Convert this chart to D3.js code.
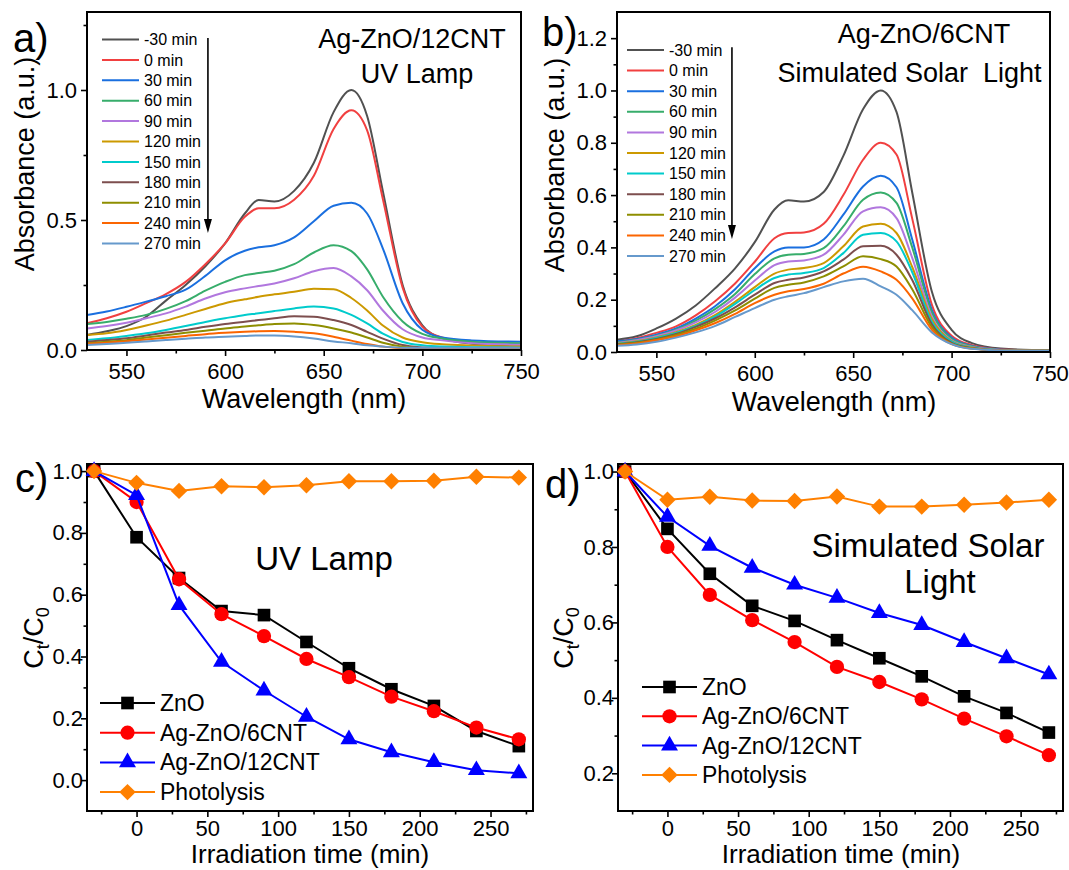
<!DOCTYPE html>
<html>
<head>
<meta charset="utf-8">
<script src="https://cdn.jsdelivr.net/npm/d3@7"></script>
<style>
body { margin: 0; background: #fff; }
svg text { font-family: Arial, "Liberation Sans", sans-serif; fill: #000; }
</style>
</head>
<body>
<div id="chart"></div>
<script>
// ---- data ----
var waveNm = [530, 540, 550, 560, 570, 580, 590, 600, 610, 617, 625, 635, 645, 655, 664, 672, 680, 690, 700, 710, 725, 750];
var timeLabels = ['-30 min', '0 min', '30 min', '60 min', '90 min', '120 min', '150 min', '180 min', '210 min', '240 min', '270 min'];
var specColors = ['#515151', '#F14040', '#1A6FDF', '#37AD6B', '#B177DE', '#CC9900', '#00CBCC', '#7D4E4E', '#8E8E00', '#FB6501', '#6699CC'];

// a) Ag-ZnO/12CNT, UV lamp
var uvM30 = [0.058, 0.072, 0.092, 0.128, 0.190, 0.250, 0.322, 0.410, 0.525, 0.577, 0.571, 0.612, 0.720, 0.915, 1.000, 0.900, 0.610, 0.250, 0.095, 0.045, 0.024, 0.013];
var uv0   = [0.103, 0.122, 0.147, 0.180, 0.215, 0.262, 0.330, 0.410, 0.512, 0.545, 0.545, 0.578, 0.670, 0.850, 0.922, 0.845, 0.580, 0.240, 0.090, 0.048, 0.030, 0.019];
var uv30  = [0.135, 0.148, 0.166, 0.186, 0.207, 0.232, 0.285, 0.345, 0.382, 0.395, 0.403, 0.433, 0.495, 0.555, 0.566, 0.525, 0.390, 0.180, 0.078, 0.048, 0.037, 0.032];
var uv60  = [0.100, 0.108, 0.120, 0.135, 0.158, 0.188, 0.228, 0.262, 0.288, 0.296, 0.305, 0.330, 0.375, 0.403, 0.380, 0.310, 0.205, 0.110, 0.062, 0.044, 0.032, 0.026];
var uv90  = [0.083, 0.092, 0.105, 0.122, 0.141, 0.167, 0.198, 0.222, 0.237, 0.246, 0.256, 0.276, 0.303, 0.315, 0.283, 0.230, 0.152, 0.080, 0.048, 0.037, 0.026, 0.020];
var uv120 = [0.058, 0.064, 0.077, 0.094, 0.113, 0.135, 0.158, 0.180, 0.195, 0.205, 0.214, 0.224, 0.236, 0.234, 0.200, 0.152, 0.094, 0.048, 0.030, 0.022, 0.017, 0.013];
var uv150 = [0.038, 0.045, 0.054, 0.064, 0.077, 0.092, 0.108, 0.122, 0.135, 0.141, 0.150, 0.160, 0.167, 0.160, 0.135, 0.102, 0.063, 0.031, 0.018, 0.013, 0.011, 0.009];
var uv180 = [0.032, 0.038, 0.045, 0.056, 0.067, 0.077, 0.089, 0.100, 0.109, 0.115, 0.122, 0.130, 0.128, 0.115, 0.096, 0.070, 0.044, 0.019, 0.010, 0.007, 0.006, 0.006];
var uv210 = [0.026, 0.032, 0.038, 0.048, 0.057, 0.066, 0.074, 0.083, 0.090, 0.095, 0.100, 0.102, 0.096, 0.083, 0.067, 0.048, 0.028, 0.013, 0.007, 0.006, 0.006, 0.006];
var uv240 = [0.024, 0.028, 0.034, 0.040, 0.047, 0.054, 0.061, 0.066, 0.070, 0.072, 0.073, 0.070, 0.064, 0.051, 0.036, 0.023, 0.013, 0.007, 0.006, 0.006, 0.006, 0.006];
var uv270 = [0.019, 0.023, 0.028, 0.033, 0.038, 0.043, 0.048, 0.051, 0.054, 0.056, 0.056, 0.052, 0.044, 0.033, 0.026, 0.018, 0.013, 0.009, 0.009, 0.009, 0.009, 0.009];

// b) Ag-ZnO/6CNT, simulated solar light
var solM30 = [0.047, 0.060, 0.090, 0.128, 0.178, 0.245, 0.320, 0.420, 0.545, 0.580, 0.575, 0.612, 0.750, 0.928, 1.000, 0.918, 0.610, 0.230, 0.085, 0.035, 0.013, 0.006];
var sol0   = [0.040, 0.053, 0.073, 0.098, 0.140, 0.195, 0.262, 0.345, 0.435, 0.455, 0.457, 0.490, 0.600, 0.735, 0.800, 0.755, 0.510, 0.180, 0.062, 0.027, 0.010, 0.005];
var sol30  = [0.041, 0.050, 0.066, 0.090, 0.128, 0.176, 0.240, 0.320, 0.385, 0.400, 0.400, 0.430, 0.525, 0.633, 0.674, 0.630, 0.430, 0.160, 0.055, 0.024, 0.009, 0.005];
var sol60  = [0.037, 0.047, 0.062, 0.085, 0.120, 0.165, 0.222, 0.298, 0.358, 0.372, 0.375, 0.397, 0.480, 0.582, 0.610, 0.570, 0.400, 0.150, 0.050, 0.022, 0.008, 0.005];
var sol90  = [0.034, 0.045, 0.060, 0.082, 0.113, 0.154, 0.208, 0.273, 0.332, 0.346, 0.350, 0.372, 0.448, 0.538, 0.553, 0.512, 0.360, 0.135, 0.045, 0.020, 0.008, 0.005];
var sol120 = [0.032, 0.041, 0.056, 0.076, 0.104, 0.142, 0.192, 0.248, 0.300, 0.315, 0.321, 0.340, 0.404, 0.480, 0.490, 0.455, 0.325, 0.125, 0.042, 0.018, 0.007, 0.005];
var sol150 = [0.031, 0.039, 0.054, 0.073, 0.100, 0.136, 0.184, 0.237, 0.283, 0.296, 0.302, 0.321, 0.378, 0.448, 0.455, 0.423, 0.305, 0.115, 0.040, 0.017, 0.007, 0.005];
var sol180 = [0.029, 0.037, 0.050, 0.069, 0.096, 0.129, 0.171, 0.219, 0.264, 0.276, 0.285, 0.308, 0.353, 0.404, 0.406, 0.372, 0.275, 0.105, 0.035, 0.015, 0.006, 0.005];
var sol210 = [0.028, 0.035, 0.047, 0.065, 0.089, 0.121, 0.159, 0.204, 0.245, 0.257, 0.266, 0.289, 0.327, 0.366, 0.355, 0.327, 0.240, 0.095, 0.032, 0.014, 0.006, 0.005];
var sol240 = [0.027, 0.033, 0.045, 0.060, 0.083, 0.111, 0.146, 0.187, 0.219, 0.232, 0.241, 0.261, 0.300, 0.326, 0.308, 0.276, 0.205, 0.085, 0.030, 0.013, 0.006, 0.005];
var sol270 = [0.024, 0.029, 0.039, 0.055, 0.075, 0.100, 0.134, 0.168, 0.200, 0.213, 0.225, 0.248, 0.270, 0.280, 0.251, 0.219, 0.160, 0.075, 0.030, 0.012, 0.006, 0.005];

// c) / d) kinetics
var timeMin = [-30, 0, 30, 60, 90, 120, 150, 180, 210, 240, 270];
var sampleNames = ['ZnO', 'Ag-ZnO/6CNT', 'Ag-ZnO/12CNT', 'Photolysis'];
var sampleColors = ['#000000', '#FF0000', '#0000FF', '#FF8000'];

var uvZnO   = [1.0, 0.786, 0.654, 0.547, 0.534, 0.447, 0.362, 0.294, 0.240, 0.159, 0.110];
var uvAg6   = [1.0, 0.900, 0.650, 0.537, 0.466, 0.392, 0.333, 0.270, 0.223, 0.170, 0.132];
var uvAg12  = [1.0, 0.922, 0.566, 0.383, 0.290, 0.205, 0.132, 0.090, 0.058, 0.032, 0.022];
var uvPhoto = [1.0, 0.962, 0.936, 0.951, 0.948, 0.954, 0.967, 0.967, 0.969, 0.982, 0.979];

var solZnO   = [1.0, 0.848, 0.729, 0.644, 0.604, 0.553, 0.505, 0.457, 0.404, 0.360, 0.308];
var solAg6   = [1.0, 0.800, 0.673, 0.606, 0.548, 0.482, 0.442, 0.396, 0.345, 0.298, 0.248];
var solAg12  = [1.0, 0.880, 0.803, 0.745, 0.700, 0.665, 0.625, 0.593, 0.548, 0.505, 0.462];
var solPhoto = [1.0, 0.925, 0.933, 0.923, 0.922, 0.934, 0.907, 0.907, 0.912, 0.918, 0.925];

var svg = d3.select('#chart')
            .append('svg')
            .attr('width', 1069)
            .attr('height', 870);

function styleAxis(g, size) {
    g.select('.domain').remove();
    g.selectAll('.tick line').attr('stroke', '#000').attr('stroke-width', 1.6);
    g.selectAll('.tick text').style('font-size', size + 'px');
}

function drawAxes(x, y, box, xt, xm, yt, ym, yfmt, xpad, ypad) {
    var xa = svg.append('g').attr('transform', 'translate(0,' + box.bottom + ')')
                .call(d3.axisBottom(x).tickValues(xt).tickSize(6).tickPadding(xpad).tickFormat(d3.format('d')));
    styleAxis(xa, 22);
    var xb = svg.append('g').attr('transform', 'translate(0,' + box.bottom + ')')
                .call(d3.axisBottom(x).tickValues(xm).tickSize(3.5).tickFormat(''));
    styleAxis(xb, 22);
    var ya = svg.append('g').attr('transform', 'translate(' + box.left + ',0)')
                .call(d3.axisLeft(y).tickValues(yt).tickSize(6).tickPadding(ypad).tickFormat(d3.format(yfmt)));
    styleAxis(ya, 22);
    var yb = svg.append('g').attr('transform', 'translate(' + box.left + ',0)')
                .call(d3.axisLeft(y).tickValues(ym).tickSize(3.5).tickFormat(''));
    styleAxis(yb, 22);

    svg.append('rect')
       .attr('x', box.left).attr('y', box.top)
       .attr('width', box.right - box.left).attr('height', box.bottom - box.top)
       .attr('fill', 'none').attr('stroke', '#000').attr('stroke-width', 2);
}

function addText(str, px, py, size, anchor) {
    return svg.append('text')
              .attr('x', px).attr('y', py)
              .attr('text-anchor', anchor || 'middle')
              .style('font-size', size + 'px')
              .text(str);
}

// ---- spectra panels (a, b) ----
function spectraPanel(box, series, ytick, yminor, yfmt, legend, arrow) {
    var x = d3.scaleLinear().domain([530, 750]).range([box.left, box.right]);
    var y = d3.scaleLinear().domain([0, 1.3]).range([box.bottom, box.top]);

    var line = d3.line()
                 .x(function(d, i) { return x(waveNm[i]); })
                 .y(function(d) { return y(d); })
                 .curve(d3.curveMonotoneX);

    svg.append('g').selectAll('path')
       .data(series)
       .enter()
       .append('path')
       .attr('d', line)
       .attr('fill', 'none')
       .attr('stroke', function(d, i) { return specColors[i]; })
       .attr('stroke-width', 2);

    drawAxes(x, y, box, [550, 600, 650, 700, 750], [575, 625, 675, 725], ytick, yminor, yfmt, 7, 4);

    // legend
    var lg = svg.append('g');
    timeLabels.forEach(function(t, i) {
        var ly = legend.y + i * legend.dy;
        lg.append('line')
          .attr('x1', legend.x).attr('x2', legend.x + 37)
          .attr('y1', ly).attr('y2', ly)
          .attr('stroke', specColors[i]).attr('stroke-width', 2);
        lg.append('text')
          .attr('x', legend.x + 42).attr('y', ly).attr('dy', '0.35em')
          .style('font-size', '16px')
          .text(t);
    });

    // downward arrow
    var ax = x(arrow.nm), y1 = y(arrow.from), y2 = y(arrow.to);
    svg.append('line')
       .attr('x1', ax).attr('x2', ax).attr('y1', y1).attr('y2', y2 - 12)
       .attr('stroke', '#000').attr('stroke-width', 1.6);
    svg.append('path')
       .attr('d', 'M' + (ax - 4) + ',' + (y2 - 14) + 'L' + (ax + 4) + ',' + (y2 - 14) + 'L' + ax + ',' + y2 + 'Z')
       .attr('fill', '#000');
}

// ---- kinetics panels (c, d) ----
var symbols = [d3.symbolSquare, d3.symbolCircle, d3.symbolTriangle, d3.symbolSquare];
var symSizes = [160, 160, 125, 135];

function marker(g, i, px, py) {
    g.append('path')
     .attr('d', d3.symbol().type(symbols[i]).size(symSizes[i])())
     .attr('transform', 'translate(' + px + ',' + py + ')' + (i == 3 ? ' rotate(45)' : ''))
     .attr('fill', sampleColors[i]);
}

function kineticsPanel(box, ydom, series, ytick, yminor, legend) {
    var x = d3.scaleLinear().domain([-35, 280]).range([box.left, box.right]);
    var y = d3.scaleLinear().domain(ydom).range([box.bottom, box.top]);

    var line = d3.line()
                 .x(function(d, i) { return x(timeMin[i]); })
                 .y(function(d) { return y(d); });

    drawAxes(x, y, box, [0, 50, 100, 150, 200, 250], [-25, 25, 75, 125, 175, 225, 275], ytick, yminor, '.1f', 3, -2);

    series.forEach(function(vals, k) {
        var g = svg.append('g');
        g.append('path')
         .attr('d', line(vals))
         .attr('fill', 'none')
         .attr('stroke', sampleColors[k])
         .attr('stroke-width', 2);
        vals.forEach(function(v, i) { marker(g, k, x(timeMin[i]), y(v)); });
    });

    sampleNames.forEach(function(n, k) {
        var ly = legend.y + k * legend.dy;
        svg.append('line')
           .attr('x1', legend.x).attr('x2', legend.x + 55)
           .attr('y1', ly).attr('y2', ly)
           .attr('stroke', sampleColors[k]).attr('stroke-width', 2);
        marker(svg, k, legend.x + 27.5, ly);
        svg.append('text')
           .attr('x', legend.x + 60).attr('y', ly).attr('dy', '0.35em')
           .style('font-size', '23px')
           .text(n);
    });
}

function ctLabel(px, py) {
    var t = svg.append('text')
               .attr('transform', 'translate(' + px + ',' + py + ') rotate(-90)')
               .attr('text-anchor', 'middle')
               .style('font-size', '27px');
    t.append('tspan').text('C');
    t.append('tspan').attr('dy', 6).style('font-size', '18px').text('t');
    t.append('tspan').attr('dy', -6).text('/C');
    t.append('tspan').attr('dy', 6).style('font-size', '18px').text('0');
}

function yTitle(str, px, py) {
    svg.append('text')
       .attr('transform', 'translate(' + px + ',' + py + ') rotate(-90)')
       .attr('text-anchor', 'middle')
       .style('font-size', '27px')
       .text(str);
}

// panel a
spectraPanel({left: 87, right: 521, top: 12, bottom: 350},
             [uvM30, uv0, uv30, uv60, uv90, uv120, uv150, uv180, uv210, uv240, uv270],
             [0, 0.5, 1.0], [0.25, 0.75, 1.25], '.1f',
             {x: 102, y: 39.5, dy: 20.4},
             {nm: 591.3, from: 1.2, to: 0.45});
addText('Ag-ZnO/12CNT', 412, 48, 27);
addText('UV Lamp', 417, 83, 27);
addText('Wavelength (nm)', 304, 408, 27);
yTitle('Absorbance (a.u.)', 33.5, 164);
addText('a)', 13, 52, 40, 'start');

// panel b
spectraPanel({left: 617, right: 1050, top: 12, bottom: 352},
             [solM30, sol0, sol30, sol60, sol90, sol120, sol150, sol180, sol210, sol240, sol270],
             [0, 0.2, 0.4, 0.6, 0.8, 1.0, 1.2], [0.1, 0.3, 0.5, 0.7, 0.9, 1.1], '.1f',
             {x: 627, y: 50, dy: 20.6},
             {nm: 588.4, from: 1.165, to: 0.432});
addText('Ag-ZnO/6CNT', 924, 43, 27);
addText('Simulated Solar\u00a0 Light', 909.5, 82, 27);
addText('Wavelength (nm)', 834, 411, 27);
yTitle('Absorbance (a.u.)', 563.5, 165);
addText('b)', 542, 46, 40, 'start');

// panel c
kineticsPanel({left: 87, right: 533, top: 464, bottom: 811}, [-0.1, 1.023],
              [uvZnO, uvAg6, uvAg12, uvPhoto],
              [0, 0.2, 0.4, 0.6, 0.8, 1.0], [0.1, 0.3, 0.5, 0.7, 0.9],
              {x: 100, y: 703, dy: 29.7});
addText('UV Lamp', 324, 570, 33);
addText('Irradiation time (min)', 310, 863, 26);
ctLabel(43, 638);
addText('c)', 15, 492, 40, 'start');

// panel d
kineticsPanel({left: 618, right: 1063, top: 464, bottom: 811}, [0.1, 1.02],
              [solZnO, solAg6, solAg12, solPhoto],
              [0.2, 0.4, 0.6, 0.8, 1.0], [0.3, 0.5, 0.7, 0.9],
              {x: 642, y: 687, dy: 29.3});
addText('Simulated Solar', 928, 557, 33);
addText('Light', 940, 593, 33);
addText('Irradiation time (min)', 841, 863, 26);
ctLabel(573, 638);
addText('d)', 545, 498, 40, 'start');
</script>
</body>
</html>
